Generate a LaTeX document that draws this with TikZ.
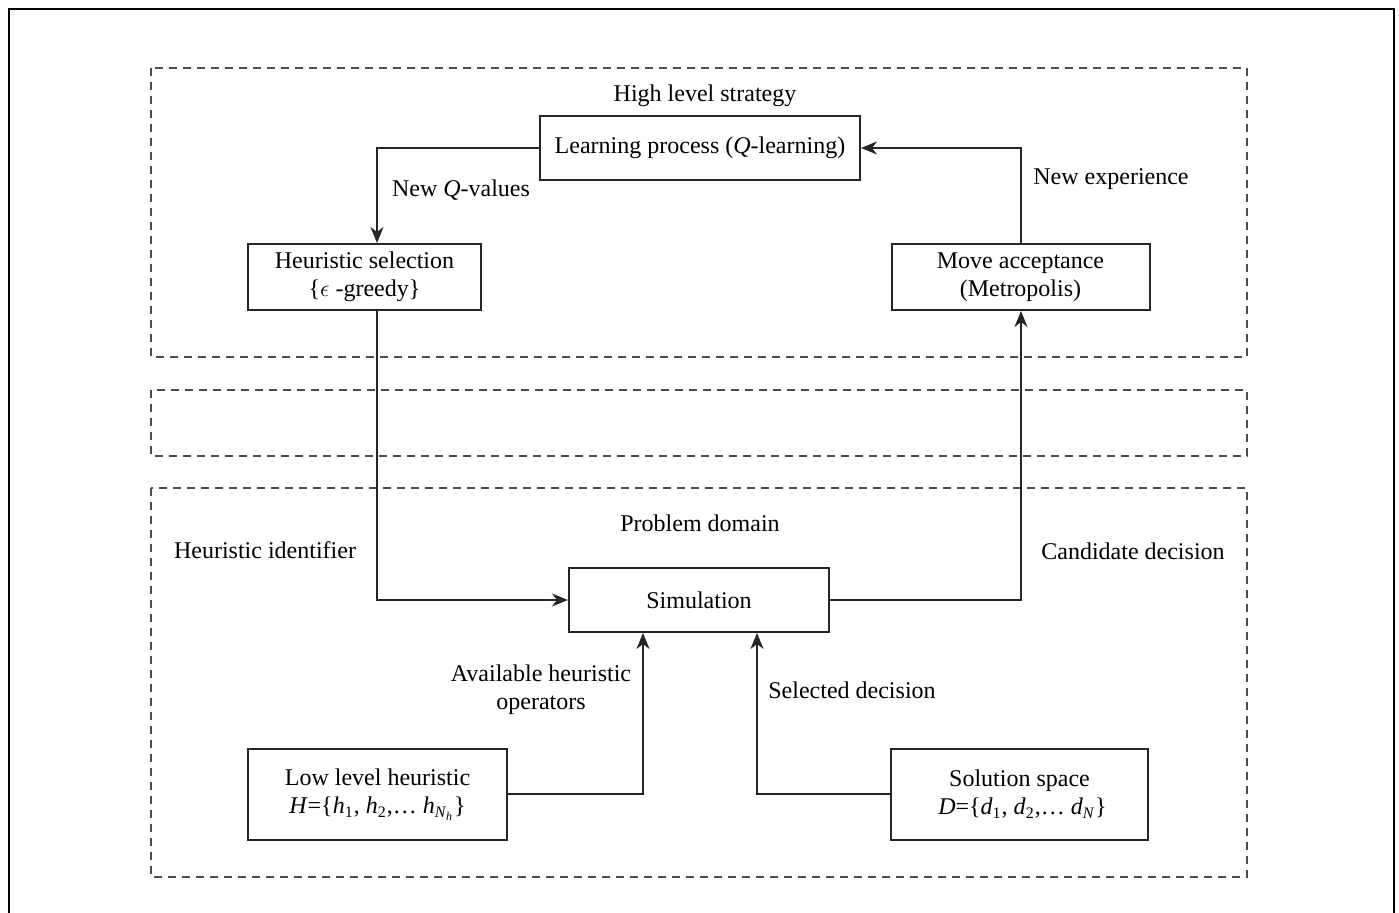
\documentclass[tikz,border=0pt]{standalone}
\usepackage{fontspec}
\setmainfont{Liberation Serif}
\usetikzlibrary{arrows.meta}
\begin{document}
\begin{tikzpicture}[x=0.5pt,y=-0.5pt,
  every node/.style={font=\fontsize{12}{14}\selectfont},
  box/.style={draw=black!85, line width=1pt, inner sep=0pt, align=center},
  region/.style={draw=black!70, line width=0.9pt, dash pattern=on 4pt off 3pt},
  conn/.style={line width=0.9pt, draw=black!85},
  arr/.style={conn, -{Stealth[length=8pt,width=6.5pt,inset=2.5pt]}},
  lbl/.style={inner sep=0pt, align=center}]
\useasboundingbox (0,0) rectangle (1399,913);
% outer frame
\draw[line width=1.3pt] (9,913) -- (9,9) -- (1394,9) -- (1394,913);
% dashed regions
\draw[region] (151,68) rectangle (1247,357);
\draw[region] (151,390) rectangle (1247,456);
\draw[region] (151,488) rectangle (1247,877);
% nodes
\node[box, minimum width=160pt, minimum height=32pt] (learn) at (700,148) {Learning process (\textit{Q}-learning)};
\node[box, minimum width=116.5pt, minimum height=33pt] (hsel) at (364.5,277) {Heuristic selection\\\{$\epsilon$ -greedy\}};
\node[box, minimum width=129pt, minimum height=33pt] (move) at (1020.5,277) {Move acceptance\\(Metropolis)};
\node[box, minimum width=130pt, minimum height=32pt] (sim) at (699,600) {Simulation};
\node[box, minimum width=129.5pt, minimum height=45.5pt] (low) at (377.5,794.5) {Low level heuristic\\\textit{H}=\{\textit{h}\textsubscript{1}, \textit{h}\textsubscript{2},\dots\ \textit{h}\textsubscript{\textit{N}\textsubscript{\textit{h}}}\}};
\node[box, minimum width=128.5pt, minimum height=45.5pt] (sol) at (1019.5,794.5) {Solution space\\\ \textit{D}=\{\textit{d}\textsubscript{1}, \textit{d}\textsubscript{2},\dots\ \textit{d}\textsubscript{\textit{N}}\}};
% labels
\node[lbl] (hls) at (705,96) {High level strategy};
\node[lbl] (nq) at (461,190) {New \textit{Q}-values};
\node[lbl] (ne) at (1111,179) {New experience};
\node[lbl] (pd) at (700,523) {Problem domain};
\node[lbl] (hi) at (265,550) {Heuristic identifier};
\node[lbl] (cd) at (1133,551) {Candidate decision};
\node[lbl] (ah) at (541,690) {Available heuristic\\operators};
\node[lbl] (sd) at (852,690) {Selected decision};
% coordinates
\coordinate (c1) at (377,148);
\coordinate (c2) at (1021,148);
\coordinate (c3) at (377,600);
\coordinate (c4) at (1021,600);
\coordinate (c5) at (643,794);
\coordinate (c6) at (757,794);
% connectors
\draw[arr] (learn.west) -- (c1) -- (c1 |- hsel.north);
\draw[arr] (move.north -| c2) -- (c2) -- (learn.east);
\draw[arr] (hsel.south -| c3) -- (c3) -- (sim.west);
\draw[arr] (sim.east) -- (c4) -- (c4 |- move.south);
\draw[arr] (low.east |- c5) -- (c5) -- (c5 |- sim.south);
\draw[arr] (sol.west |- c6) -- (c6) -- (c6 |- sim.south);
\end{tikzpicture}
\end{document}
